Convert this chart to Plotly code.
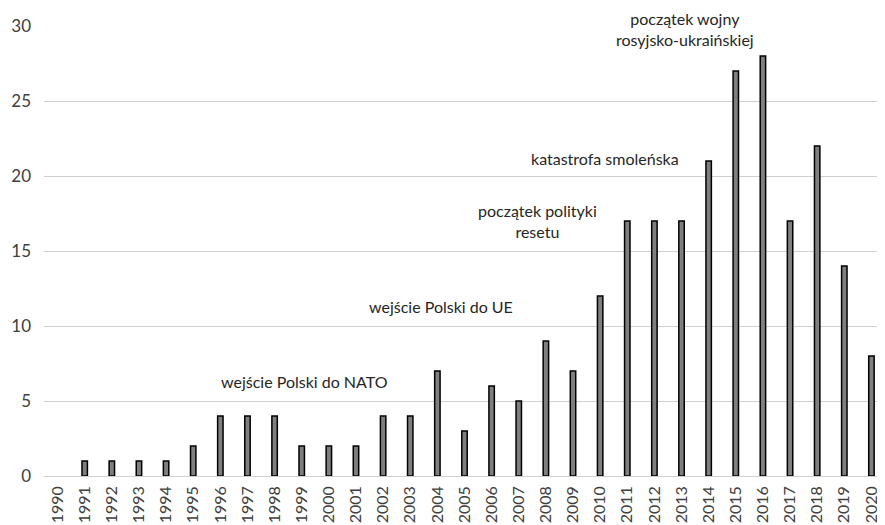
import plotly.graph_objs as go

years = [str(y) for y in range(1990, 2021)]
counts = [0, 1, 1, 1, 1, 2, 4, 4, 4, 2, 2, 2, 4, 4, 7, 3, 6, 5, 9, 7,
          12, 17, 17, 17, 21, 27, 28, 17, 22, 14, 8]

event_labels = ['wejście Polski do NATO', 'wejście Polski do UE',
                'początek polityki<br>resetu', 'katastrofa smoleńska',
                'początek wojny<br>rosyjsko-ukraińskiej']
event_x = [9.1, 14.15, 17.7, 20.17, 23.14]
event_y = [6.27, 11.27, 17.0, 21.2, 29.83]

font = 'Lato, "Open Sans", sans-serif'

fig = go.Figure(go.Bar(
    x=list(range(len(years))), y=counts,
    marker=dict(color='#7f7f7f',
                line=dict(color='black', width=[1.5 if c else 0 for c in counts])),
    width=0.2,
))

for label, x, y in zip(event_labels, event_x, event_y):
    fig.add_annotation(x=x, y=y, xref='x', yref='y', text=label, showarrow=False,
                       font=dict(family=font, size=16, color='#262626'))

# page body has an 8px margin, so the figure is shrunk and shifted to match
fig.update_layout(
    width=877, height=517,
    margin=dict(l=36, r=0, t=18, b=49),
    plot_bgcolor='white', paper_bgcolor='white',
    showlegend=False,
    font=dict(family=font, size=16, color='#404040'),
    xaxis=dict(tickmode='array', tickvals=list(range(len(years))), ticktext=years,
               tickangle=-90, range=[-0.5, 30.5], showgrid=False, zeroline=False,
               showline=False, ticks='', tickfont=dict(size=16, color='#404040'),
               ticklabelstandoff=6, automargin=False),
    yaxis=dict(range=[0, 30], dtick=5, showgrid=True, gridcolor='#d0d0d0', gridwidth=1,
               zeroline=True, zerolinecolor='#d0d0d0', zerolinewidth=1,
               showline=False, ticks='', tickfont=dict(size=17, color='#404040'),
               ticklabelstandoff=12, automargin=False),
)

fig.write_html("out.html")
